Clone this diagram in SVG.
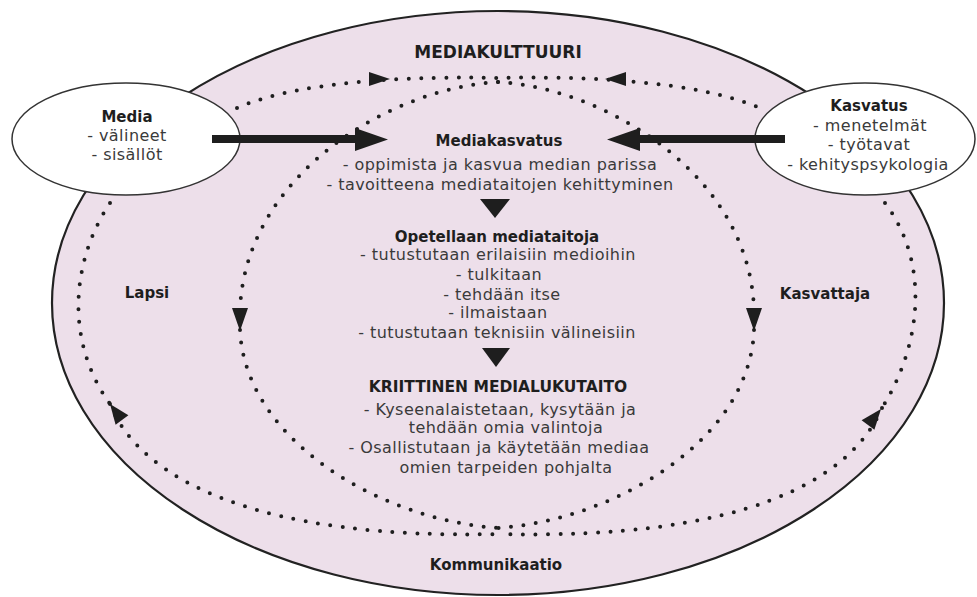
<svg xmlns="http://www.w3.org/2000/svg" width="977" height="597" viewBox="0 0 977 597">
<style>
.bg{fill:#ffffff}
.culture{fill:#eddfea;stroke:#222;stroke-width:2.2}
.node{fill:#ffffff;stroke:#333;stroke-width:1.5}
.dots{fill:none;stroke:#1e1e1e;stroke-width:4;stroke-linecap:round;stroke-dasharray:0 12.5}
.head{fill:#1e1e1e}
.t{font-family:"DejaVu Sans",sans-serif;text-anchor:middle}
.b{font-weight:bold;font-size:15px;fill:#1e1e1e}
.big{font-weight:bold;font-size:17px;fill:#1e1e1e}
.r{font-size:16px;fill:#3a3a3a;letter-spacing:0.45px}
</style>
<rect class="bg" x="0" y="0" width="977" height="597"/>
<g id="mediakulttuuri">
<ellipse class="culture" cx="498" cy="303" rx="446" ry="292"/>
<text class="t big" x="498" y="58">MEDIAKULTTUURI</text>
</g>
<g id="connectors">
<path class="dots" d="M237,108 C300,80 420,76 498,78 C576,76 696,80 760,108"/>
<path class="dots" d="M498,82 C390,88 245,175 240,310"/>
<path class="dots" d="M498,82 C605,88 750,175 754,310"/>
<path class="dots" d="M240,330 C245,440 380,520 498,528"/>
<path class="dots" d="M754,330 C750,440 615,520 498,528"/>
<path class="dots" d="M110,203 C72,260 64,340 110,404"/>
<path class="dots" d="M110,404 C140,480 260,540 498,534"/>
<path class="dots" d="M885,203 C928,260 924,340 882,408"/>
<path class="dots" d="M882,408 C850,482 740,540 498,534"/>
<polygon class="head" points="390,79 369,72 369,86"/>
<polygon class="head" points="605,79 626,72 626,86"/>
<polygon class="head" points="240,331 232,308 248,308"/>
<polygon class="head" points="754,331 746,308 762,308"/>
<polygon class="head" points="110,404 128.4,415.2 115.6,424.8"/>
<polygon class="head" points="881,409 874.4,429.8 861.6,420.2"/>
<polygon class="head" points="480,199 510,199 495,218"/>
<polygon class="head" points="482,348 510,348 496,367"/>
</g>
<g id="media">
<ellipse class="node" cx="126" cy="139" rx="114" ry="56"/>
<text class="t b" x="127" y="122">Media</text>
<text class="t r" x="127" y="141">- välineet</text>
<text class="t r" x="127" y="160">- sisällöt</text>
</g>
<g id="kasvatus">
<ellipse class="node" cx="865" cy="139" rx="110" ry="56"/>
<text class="t b" x="869" y="111">Kasvatus</text>
<text class="t r" x="870" y="131">- menetelmät</text>
<text class="t r" x="869" y="150">- työtavat</text>
<text class="t r" x="868" y="170">- kehityspsykologia</text>
</g>
<g id="thick-arrows">
<polygon class="head" points="212,135 355,135 355,128 388,139.5 355,151 355,143 212,143"/>
<polygon class="head" points="785,135 640,135 640,128 607,139.5 640,151 640,143 785,143"/>
</g>
<g id="mediakasvatus">
<text class="t b" x="499" y="146">Mediakasvatus</text>
<text class="t r" x="500" y="170">- oppimista ja kasvua median parissa</text>
<text class="t r" x="500" y="190">- tavoitteena mediataitojen kehittyminen</text>
</g>
<g id="opetellaan">
<text class="t b" x="497" y="242">Opetellaan mediataitoja</text>
<text class="t r" x="498" y="260">- tutustutaan erilaisiin medioihin</text>
<text class="t r" x="499" y="280">- tulkitaan</text>
<text class="t r" x="502" y="300">- tehdään itse</text>
<text class="t r" x="498" y="318">- ilmaistaan</text>
<text class="t r" x="497" y="338">- tutustutaan teknisiin välineisiin</text>
</g>
<g id="kriittinen">
<text class="t b" x="498" y="392" style="font-size:15.5px">KRIITTINEN MEDIALUKUTAITO</text>
<text class="t r" x="500" y="415">- Kyseenalaistetaan, kysytään ja</text>
<text class="t r" x="506" y="433">tehdään omia valintoja</text>
<text class="t r" x="499" y="453">- Osallistutaan ja käytetään mediaa</text>
<text class="t r" x="506" y="473">omien tarpeiden pohjalta</text>
</g>
<g id="lapsi"><text class="t b" x="147" y="298">Lapsi</text></g>
<g id="kasvattaja"><text class="t b" x="825" y="299">Kasvattaja</text></g>
<g id="kommunikaatio"><text class="t b" x="496" y="570">Kommunikaatio</text></g>
</svg>
